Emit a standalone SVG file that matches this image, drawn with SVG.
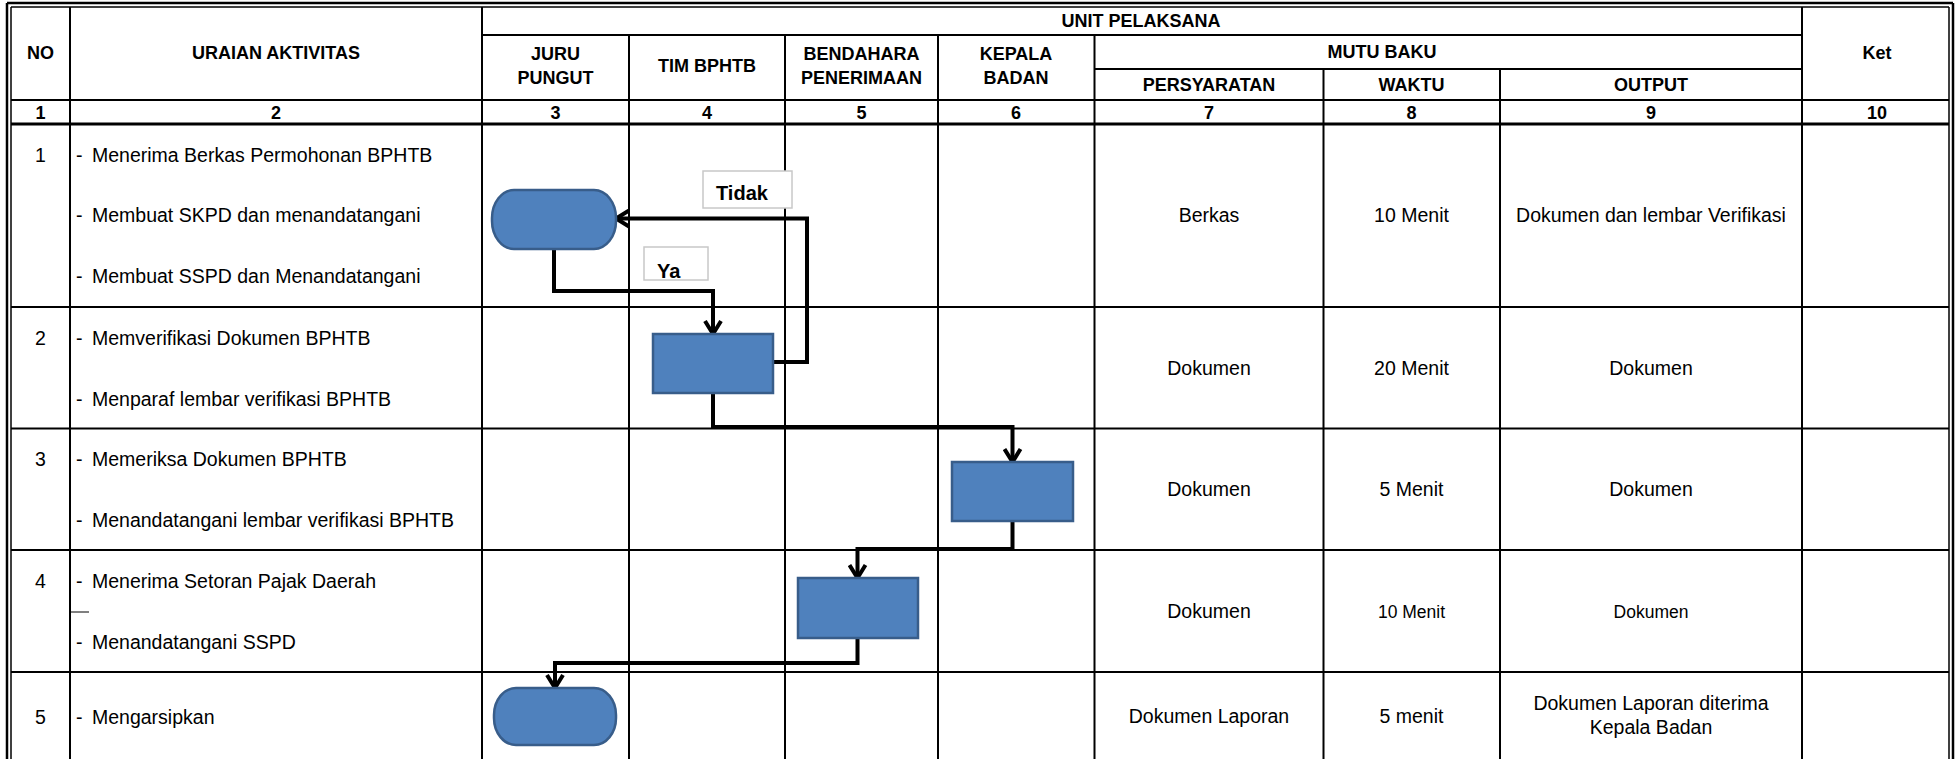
<svg xmlns="http://www.w3.org/2000/svg" width="1959" height="759" viewBox="0 0 1959 759">
<style>
text{font-family:"Liberation Sans",Arial,sans-serif;fill:#000}
.h{font-size:18px;font-weight:bold;text-anchor:middle}
.b{font-size:19.5px}
.c{font-size:19.5px;text-anchor:middle}
.s{font-size:17.5px;text-anchor:middle}
.lbl{font-size:20px;font-weight:bold}
.g{stroke:#000;stroke-width:2;fill:none}
.conn{stroke:#000;stroke-width:4;fill:none;stroke-linejoin:miter}
.proc{fill:#4F81BD;stroke:#385D8A;stroke-width:2.5}
.lbox{fill:#fff;stroke:#C8C8C8;stroke-width:1.5}
</style>
<defs>
<marker id="arr" viewBox="-16 -10 20 20" refX="-1" refY="0" markerWidth="20" markerHeight="20" markerUnits="userSpaceOnUse" orient="auto">
<path d="M-13,-8 L0,0 L-13,8" fill="none" stroke="#000" stroke-width="4"/>
</marker>
</defs>
<rect x="0" y="0" width="1959" height="759" fill="#fff"/>
<g id="grid">
<line x1="7" y1="3" x2="1953" y2="3" stroke="#000" stroke-width="2.5"/>
<line x1="11" y1="7" x2="1949" y2="7" stroke="#000" stroke-width="1.5"/>
<line x1="7" y1="3" x2="7" y2="759" stroke="#000" stroke-width="2.5"/>
<line x1="11" y1="7" x2="11" y2="759" stroke="#000" stroke-width="1.5"/>
<line x1="1953" y1="3" x2="1953" y2="759" stroke="#000" stroke-width="2.5"/>
<line x1="1949" y1="7" x2="1949" y2="759" stroke="#000" stroke-width="1.5"/>
<line class="g" x1="482" y1="35" x2="1802" y2="35"/>
<line class="g" x1="1094.5" y1="69" x2="1802" y2="69"/>
<line class="g" x1="11" y1="100" x2="1949" y2="100"/>
<line x1="11" y1="124" x2="1949" y2="124" stroke="#000" stroke-width="3"/>
<line class="g" x1="11" y1="307" x2="1949" y2="307"/>
<line class="g" x1="11" y1="428.5" x2="1949" y2="428.5"/>
<line class="g" x1="11" y1="550" x2="1949" y2="550"/>
<line class="g" x1="11" y1="672" x2="1949" y2="672"/>
<line class="g" x1="70" y1="7" x2="70" y2="759"/>
<line class="g" x1="482" y1="7" x2="482" y2="759"/>
<line class="g" x1="629" y1="35" x2="629" y2="759"/>
<line class="g" x1="785" y1="35" x2="785" y2="759"/>
<line class="g" x1="938" y1="35" x2="938" y2="759"/>
<line class="g" x1="1094.5" y1="35" x2="1094.5" y2="759"/>
<line class="g" x1="1323.5" y1="69" x2="1323.5" y2="759"/>
<line class="g" x1="1500" y1="69" x2="1500" y2="759"/>
<line class="g" x1="1802" y1="7" x2="1802" y2="759"/>
<line x1="71" y1="612" x2="89" y2="612" stroke="#000" stroke-width="1"/>
</g>
<g id="header">
<text class="h" x="1141" y="27">UNIT PELAKSANA</text>
<text class="h" x="40.5" y="59">NO</text>
<text class="h" x="276" y="59">URAIAN AKTIVITAS</text>
<text class="h" x="555.5" y="60">JURU</text>
<text class="h" x="555.5" y="84">PUNGUT</text>
<text class="h" x="707" y="72">TIM BPHTB</text>
<text class="h" x="861.5" y="60">BENDAHARA</text>
<text class="h" x="861.5" y="84">PENERIMAAN</text>
<text class="h" x="1016" y="60">KEPALA</text>
<text class="h" x="1016" y="84">BADAN</text>
<text class="h" x="1382" y="58">MUTU BAKU</text>
<text class="h" x="1209" y="91">PERSYARATAN</text>
<text class="h" x="1411.5" y="91">WAKTU</text>
<text class="h" x="1651" y="91">OUTPUT</text>
<text class="h" x="1877" y="59">Ket</text>
<text class="h" x="40.5" y="119">1</text>
<text class="h" x="276" y="119">2</text>
<text class="h" x="555.5" y="119">3</text>
<text class="h" x="707" y="119">4</text>
<text class="h" x="861.5" y="119">5</text>
<text class="h" x="1016" y="119">6</text>
<text class="h" x="1209" y="119">7</text>
<text class="h" x="1411.5" y="119">8</text>
<text class="h" x="1651" y="119">9</text>
<text class="h" x="1877" y="119">10</text>
</g>
<g id="rows">
<text class="c" x="40.5" y="162">1</text>
<text class="b" x="76" y="162">-<tspan x="92">Menerima Berkas Permohonan BPHTB</tspan></text>
<text class="b" x="76" y="222">-<tspan x="92">Membuat SKPD dan menandatangani</tspan></text>
<text class="b" x="76" y="283">-<tspan x="92">Membuat SSPD dan Menandatangani</tspan></text>
<text class="c" x="1209" y="222">Berkas</text>
<text class="c" x="1411.5" y="222">10 Menit</text>
<text class="c" x="1651" y="222">Dokumen dan lembar Verifikasi</text>
<text class="c" x="40.5" y="345">2</text>
<text class="b" x="76" y="345">-<tspan x="92">Memverifikasi Dokumen BPHTB</tspan></text>
<text class="b" x="76" y="406">-<tspan x="92">Menparaf lembar verifikasi BPHTB</tspan></text>
<text class="c" x="1209" y="375">Dokumen</text>
<text class="c" x="1411.5" y="375">20 Menit</text>
<text class="c" x="1651" y="375">Dokumen</text>
<text class="c" x="40.5" y="466">3</text>
<text class="b" x="76" y="466">-<tspan x="92">Memeriksa Dokumen BPHTB</tspan></text>
<text class="b" x="76" y="527">-<tspan x="92">Menandatangani lembar verifikasi BPHTB</tspan></text>
<text class="c" x="1209" y="496">Dokumen</text>
<text class="c" x="1411.5" y="496">5 Menit</text>
<text class="c" x="1651" y="496">Dokumen</text>
<text class="c" x="40.5" y="588">4</text>
<text class="b" x="76" y="588">-<tspan x="92">Menerima Setoran Pajak Daerah</tspan></text>
<text class="b" x="76" y="649">-<tspan x="92">Menandatangani SSPD</tspan></text>
<text class="c" x="1209" y="618">Dokumen</text>
<text class="s" x="1411.5" y="618">10 Menit</text>
<text class="s" x="1651" y="618">Dokumen</text>
<text class="c" x="40.5" y="724">5</text>
<text class="b" x="76" y="724">-<tspan x="92">Mengarsipkan</tspan></text>
<text class="c" x="1209" y="723">Dokumen Laporan</text>
<text class="c" x="1411.5" y="723">5 menit</text>
<text class="c" x="1651" y="710">Dokumen Laporan diterima</text>
<text class="c" x="1651" y="734">Kepala Badan</text>
</g>
<g id="connectors">
<path class="conn" d="M554 249 V291 H713 V333" marker-end="url(#arr)"/>
<path class="conn" d="M773 362 H807 V218.5 H617" marker-end="url(#arr)"/>
<path class="conn" d="M713 393 V427 H1012.5 V461" marker-end="url(#arr)"/>
<path class="conn" d="M1012.5 521 V549 H857.5 V577" marker-end="url(#arr)"/>
<path class="conn" d="M857.5 638 V663 H555 V687" marker-end="url(#arr)"/>
</g>
<g id="node-start">
<rect class="proc" x="492" y="190" width="124" height="59" rx="22" ry="28"/>
</g>
<g id="node-verifikasi">
<rect class="proc" x="653" y="334" width="120" height="59"/>
</g>
<g id="node-kepala">
<rect class="proc" x="952" y="462" width="121" height="59"/>
</g>
<g id="node-bendahara">
<rect class="proc" x="798" y="578" width="120" height="60"/>
</g>
<g id="node-arsip">
<rect class="proc" x="494" y="688" width="122" height="57" rx="22" ry="27"/>
</g>
<g id="label-tidak">
<rect class="lbox" x="703" y="171" width="89" height="37"/>
<text class="lbl" x="716" y="200">Tidak</text>
</g>
<g id="label-ya">
<rect class="lbox" x="644" y="247" width="64" height="33"/>
<text class="lbl" x="657" y="278">Ya</text>
</g>
</svg>
